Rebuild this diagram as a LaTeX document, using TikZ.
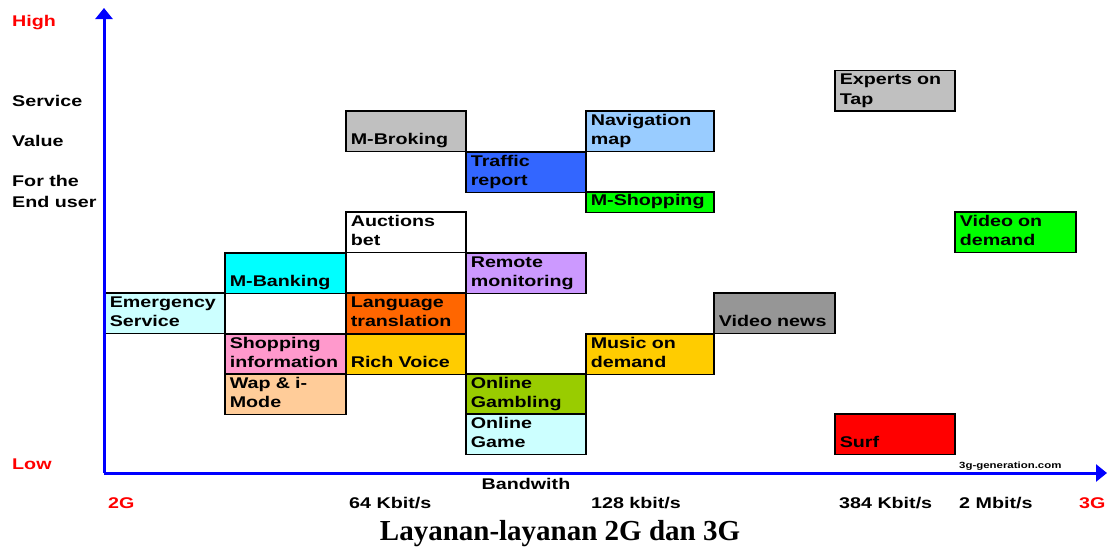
\documentclass[tikz,border=0pt]{standalone}
\usepackage{fontspec}
\setmainfont{Liberation Sans}[FakeStretch=1.27]
\newfontfamily\titlefont{Liberation Serif}
\usepackage{xcolor}
\definecolor{svcSilver}{HTML}{C0C0C0}
\definecolor{svcGrey}{HTML}{969696}
\definecolor{svcSky}{HTML}{99CCFF}
\definecolor{svcBlue}{HTML}{3366FF}
\definecolor{svcGreen}{HTML}{00FF00}
\definecolor{svcCyan}{HTML}{00FFFF}
\definecolor{svcIce}{HTML}{CCFFFF}
\definecolor{svcLilac}{HTML}{CC99FF}
\definecolor{svcOrange}{HTML}{FF6600}
\definecolor{svcPink}{HTML}{FF99CC}
\definecolor{svcGold}{HTML}{FFCC00}
\definecolor{svcPeach}{HTML}{FFCC99}
\definecolor{svcOlive}{HTML}{99CC00}
\definecolor{svcRed}{HTML}{FF0000}
\definecolor{axisBlue}{HTML}{0000FF}
\usetikzlibrary{arrows.meta}

\begin{document}
\begin{tikzpicture}[x=1pt, y=-1pt,
  svcbox/.style={draw=black, line width=1.6pt, anchor=north west, minimum height=40.5pt,
    inner xsep=5pt, inner ysep=0pt, align=left, font=\fontsize{15.5}{19.5}\bfseries\selectfont},
  axislbl/.style={anchor=base west, inner sep=0pt, font=\fontsize{15.5}{18.5}\bfseries\selectfont},
  axisline/.style={axisBlue, line width=3pt, -{Triangle[width=17pt,length=11pt]}}]
  \useasboundingbox (0,0) rectangle (1107,547);
  % service boxes
  \node[svcbox, fill=svcSilver, text width=110pt] (experts) at (834,69.5) {\strut Experts on\\\strut Tap};
  \node[svcbox, fill=svcSilver, text width=110pt] (mbroking) at (345,110) {\strut\\\strut M-Broking};
  \node[svcbox, fill=svcSky, text width=118pt] (navmap) at (585,110) {\strut Navigation\\\strut map};
  \node[svcbox, fill=svcBlue, text width=110pt] (traffic) at (465,151) {\strut Traffic\\\strut report};
  \node[svcbox, fill=svcGreen, text width=118pt, minimum height=20.5pt] (mshopping) at (585,191) {\strut M-Shopping};
  \node[svcbox, fill=white, text width=110pt] (auctions) at (345,211) {\strut Auctions\\\strut bet};
  \node[svcbox, fill=svcGreen, text width=111pt] (vod) at (954,211) {\strut Video on\\\strut demand};
  \node[svcbox, fill=svcCyan, text width=111pt] (mbanking) at (224,252) {\strut\\\strut M-Banking};
  \node[svcbox, fill=svcLilac, text width=110pt] (remote) at (465,252) {\strut Remote\\\strut monitoring};
  \node[svcbox, fill=svcIce, text width=110pt] (emergency) at (104,292) {\strut Emergency\\\strut Service};
  \node[svcbox, fill=svcOrange, text width=110pt] (language) at (345,292) {\strut Language\\\strut translation};
  \node[svcbox, fill=svcGrey, text width=111pt] (videonews) at (713,292) {\strut\\\strut Video news};
  \node[svcbox, fill=svcPink, text width=111pt] (shopinfo) at (224,333) {\strut Shopping\\\strut information};
  \node[svcbox, fill=svcGold, text width=110pt] (richvoice) at (345,333) {\strut\\\strut Rich Voice};
  \node[svcbox, fill=svcGold, text width=118pt] (music) at (585,333) {\strut Music on\\\strut demand};
  \node[svcbox, fill=svcPeach, text width=111pt] (wap) at (224,373) {\strut Wap \& i-\\\strut Mode};
  \node[svcbox, fill=svcOlive, text width=110pt] (gambling) at (465,373) {\strut Online\\\strut Gambling};
  \node[svcbox, fill=svcIce, text width=110pt] (game) at (465,413) {\strut Online\\\strut Game};
  \node[svcbox, fill=svcRed, text width=110pt] (surf) at (834,413) {\strut\\\strut Surf};
  % axes
  \coordinate (origin) at (104,473);
  \coordinate (ytop) at (104,8);
  \coordinate (xend) at (1107,473);
  \draw[axisline] (origin) -- (ytop);
  \draw[axisline] (origin) -- (xend);
  % value axis labels
  \node[axislbl, text=svcRed] (high) at (12,26) {High};
  \node[axislbl] (service) at (12,106) {Service};
  \node[axislbl] (value) at (12,146) {Value};
  \node[axislbl] (forthe) at (12,186) {For the};
  \node[axislbl] (enduser) at (12,207) {End user};
  \node[axislbl, text=svcRed] (low) at (12,469) {Low};
  % bandwidth axis labels
  \node[axislbl, anchor=base] (bandwith) at (526,489) {Bandwith};
  \node[axislbl, text=svcRed] (twog) at (108,508) {2G};
  \node[axislbl] (kb64) at (349,508) {64 Kbit/s};
  \node[axislbl] (kb128) at (591,508) {128 kbit/s};
  \node[axislbl] (kb384) at (839,508) {384 Kbit/s};
  \node[axislbl] (mb2) at (959,508) {2 Mbit/s};
  \node[axislbl, text=svcRed] (threeg) at (1079,508) {3G};
  \node[axislbl, font=\fontsize{9}{10}\bfseries\selectfont] (site) at (959,468) {3g-generation.com};
  % caption
  \node[anchor=base, inner sep=0pt, font=\titlefont\bfseries\fontsize{29}{32}\selectfont] (caption) at (560,540) {Layanan-layanan 2G dan 3G};
\end{tikzpicture}
\end{document}
